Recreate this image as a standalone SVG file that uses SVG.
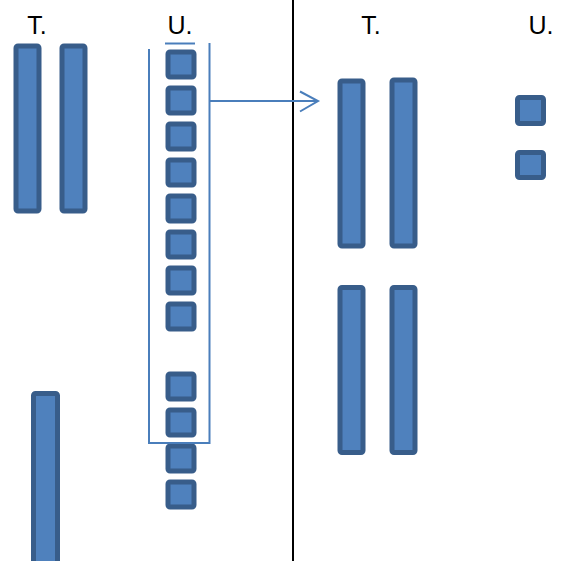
<svg xmlns="http://www.w3.org/2000/svg" width="562" height="561" viewBox="0 0 562 561">
<style>
.b{fill:#4F81BD;stroke:#385D8A;stroke-width:5;rx:2;ry:2}
.t{font-family:"Liberation Sans",Arial,sans-serif;font-size:25px;fill:#000;text-anchor:middle}
.ln{fill:none;stroke:#4A7EBB;stroke-width:2}
</style>
<rect width="562" height="561" fill="#fff"/>
<g id="labels">
<text class="t" x="37" y="34">T.</text>
<text class="t" x="180" y="34">U.</text>
<text class="t" x="371" y="34">T.</text>
<text class="t" x="541" y="34">U.</text>
</g>
<g id="left-T">
<rect class="b" x="16" y="46" width="23" height="165"/>
<rect class="b" x="62" y="46" width="23" height="165"/>
<rect class="b" x="33.5" y="393.5" width="24" height="180"/>
</g>
<g id="left-U">
<rect class="b" x="168" y="52" width="26" height="25"/>
<rect class="b" x="168" y="88" width="26" height="25"/>
<rect class="b" x="168" y="124" width="26" height="25"/>
<rect class="b" x="168" y="160" width="26" height="25"/>
<rect class="b" x="168" y="196" width="26" height="25"/>
<rect class="b" x="168" y="232" width="26" height="25"/>
<rect class="b" x="168" y="268" width="26" height="25"/>
<rect class="b" x="168" y="304" width="26" height="25"/>
<rect class="b" x="168" y="374" width="26" height="25"/>
<rect class="b" x="168" y="410" width="26" height="25"/>
<rect class="b" x="168" y="446" width="26" height="25"/>
<rect class="b" x="168" y="482" width="26" height="25"/>
</g>
<g id="bracket">
<path class="ln" d="M149,49 V443 H209.5 V43"/>
<path class="ln" d="M165,43.5 H195"/>
</g>
<g id="divider">
<line x1="293" y1="0" x2="293" y2="561" stroke="#000" stroke-width="2"/>
</g>
<g id="right-T">
<rect class="b" x="340" y="81" width="23" height="165"/>
<rect class="b" x="392" y="80" width="23" height="166"/>
<rect class="b" x="340" y="287.5" width="23" height="165"/>
<rect class="b" x="392" y="287.5" width="23" height="165"/>
</g>
<g id="right-U">
<rect class="b" x="517.5" y="97.5" width="26" height="26"/>
<rect class="b" x="517.5" y="152.5" width="26" height="25"/>
</g>
<g id="connectors">
<path class="ln" d="M209.5,101 H317"/>
<path class="ln" d="M300,91.5 L318,101 L300,111.5"/>
</g>
</svg>
